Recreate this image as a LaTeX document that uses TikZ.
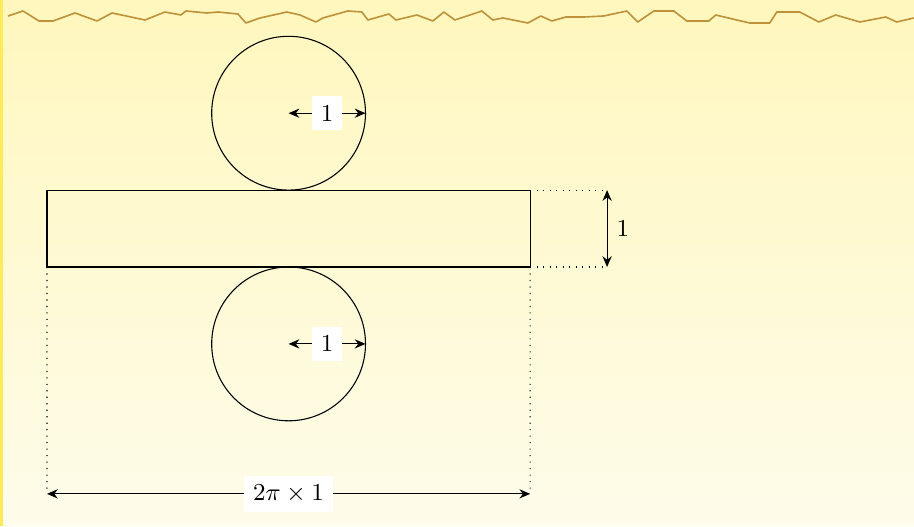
\documentclass[tikz,border=0pt]{standalone}
\usepackage{amsmath}
\usepackage{tikz}
\usetikzlibrary{
  arrows.meta,
  calc,
  positioning
}
\definecolor{paperTop}{RGB}{255,247,190}
\definecolor{paperBottom}{RGB}{254,252,234}
\definecolor{edgeBar}{RGB}{255,234,90}
\definecolor{tornStroke}{RGB}{190,146,58}
\colorlet{ink}{black}
\tikzset{
  dimarrow/.style={{Stealth[length=1.4mm,width=1.2mm]}-{Stealth[length=1.4mm,width=1.2mm]}, draw=ink, line width=0.4pt},
  guide/.style={draw=ink, dotted, line width=0.4pt},
  lidcircle/.style={circle, draw=ink, line width=0.4pt, minimum size=2cm, inner sep=0pt, outer sep=0pt},
  stripbox/.style={rectangle, draw=ink, line width=0.4pt, minimum width=6.2832cm, minimum height=1cm, inner sep=0pt, outer sep=0pt},
  dimlabel/.style={fill=white, inner sep=3.3pt, font=\small, text=ink},
  sidelabel/.style={inner sep=3.3pt, font=\small, text=ink}
}

\begin{document}
\begin{tikzpicture}[x=1cm,y=1cm]
  \useasboundingbox (-0.6112,-3.3680) rectangle (11.2744,3.4720);

  % paper background, in pixel units of the page
  \begin{scope}[shift={(-0.6112,3.4720)}, x=0.013004cm, y=-0.013004cm]
    \shade[top color=paperTop, bottom color=paperBottom] (0,0) rectangle (914,526);
    \fill[paperTop] (0,0) rectangle (914,30);
    \fill[edgeBar] (0,0) rectangle (3.5,526);
    \draw[tornStroke, line width=0.6pt, line join=round]
      (8,16) -- (23,11) -- (39,21) -- (53,21) -- (75,13) -- (97,21) -- (112,13)
      -- (145,20) -- (165,12) -- (181,15) -- (186,11) -- (207,13) -- (218,12)
      -- (238,14) -- (246,23) -- (260,18) -- (287,12) -- (300,15) -- (316,22)
      -- (323,18) -- (348,11) -- (362,12) -- (368,20) -- (389,14) -- (396,20)
      -- (417,15) -- (433,21) -- (444,12) -- (455,20) -- (482,11) -- (493,20)
      -- (503,18) -- (528,23) -- (541,16) -- (552,21) -- (566,17) -- (584,17)
      -- (604,16) -- (627,11) -- (638,22) -- (654,11) -- (674,11) -- (687,21)
      -- (709,21) -- (716,15) -- (737,20) -- (750,23) -- (770,23) -- (777,12)
      -- (800,12) -- (819,22) -- (836,15) -- (860,22) -- (886,17) -- (897,22)
      -- (914,18);
  \end{scope}

  \node[stripbox] (strip) at (pi,0.5) {};
  \node[lidcircle] (toplid) at (pi,2) {};
  \node[lidcircle] (botlid) at (pi,-1) {};

  \draw[dimarrow] (toplid.center) -- node[dimlabel] {$1$} (toplid.east);
  \draw[dimarrow] (botlid.center) -- node[dimlabel] {$1$} (botlid.east);

  % height of the strip
  \coordinate (hightop) at ($(strip.north east)+(1,0)$);
  \coordinate (highbot) at ($(strip.south east)+(1,0)$);
  \draw[guide] (strip.north east) -- (hightop);
  \draw[guide] (strip.south east) -- (highbot);
  \draw[dimarrow] (highbot) -- node[sidelabel, right] {$1$} (hightop);

  % length of the strip
  \coordinate (lenleft) at (0,-2.95);
  \coordinate (lenright) at (2*pi,-2.95);
  \draw[guide] (strip.south west) -- (lenleft);
  \draw[guide] (strip.south east) -- (lenright);
  \draw[dimarrow] (lenleft) -- node[dimlabel] {$2\pi\times1$} (lenright);
\end{tikzpicture}
\end{document}
